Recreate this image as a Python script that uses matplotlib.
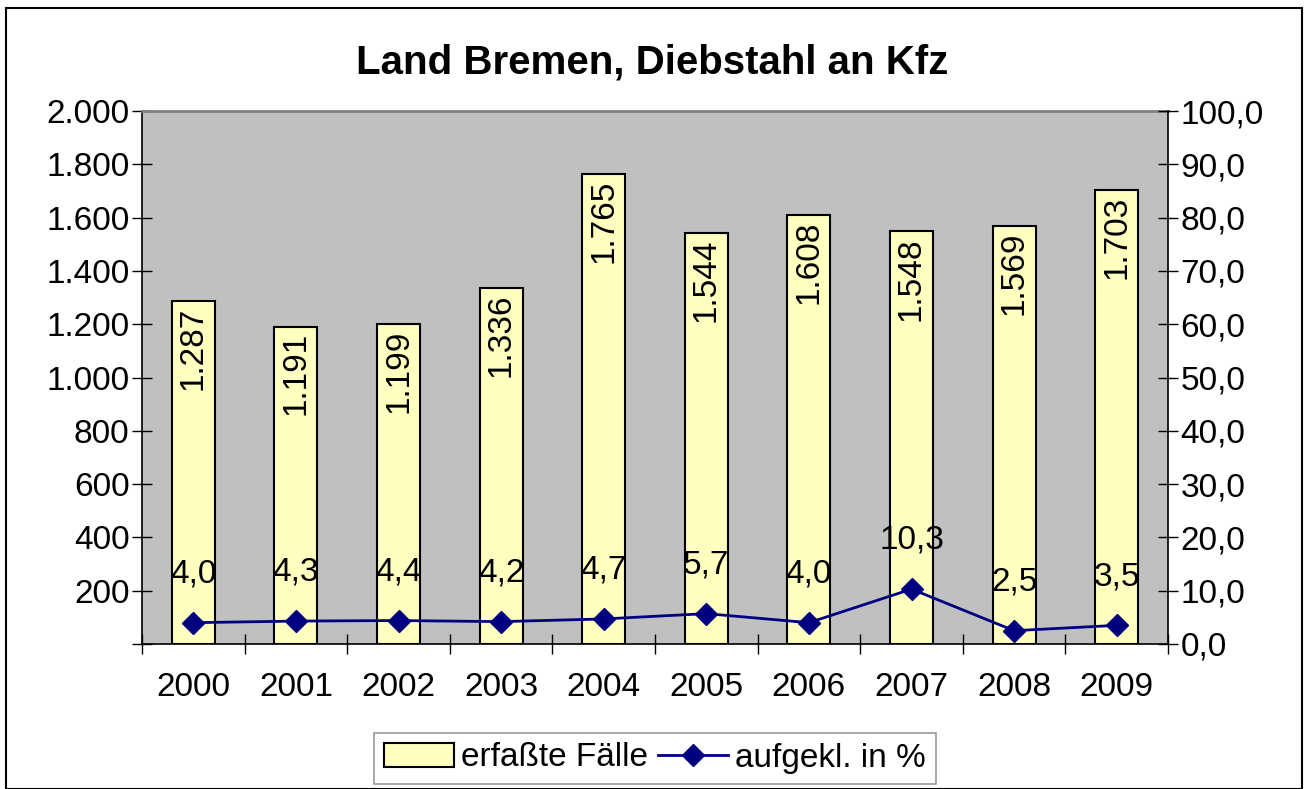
import matplotlib
matplotlib.use("Agg")
import matplotlib.pyplot as plt
from matplotlib.patches import Rectangle
from matplotlib.lines import Line2D
from matplotlib.ticker import FuncFormatter, FixedLocator

plt.rcParams['font.family'] = ['Liberation Sans', 'DejaVu Sans']

# data
years = ['2000', '2001', '2002', '2003', '2004', '2005', '2006', '2007', '2008', '2009']
cases = [1287, 1191, 1199, 1336, 1765, 1544, 1608, 1548, 1569, 1703]
solved_pct = [4.0, 4.3, 4.4, 4.2, 4.7, 5.7, 4.0, 10.3, 2.5, 3.5]

FS = 24
fig = plt.figure(figsize=(13.04, 7.89), dpi=100)

# outer chart border
fig.patches.append(Rectangle((6 / 1304, 0), 1296 / 1304, 781 / 789, transform=fig.transFigure,
                             fill=False, edgecolor='black', linewidth=1.5))

ax = fig.add_axes([142 / 1304, 1 - 644 / 789, 1026 / 1304, 533 / 789])
ax.set_facecolor('#C0C0C0')

x = list(range(len(years)))
ax.bar(x, cases, width=0.42, color='#FFFFC0', edgecolor='black', linewidth=1.5, zorder=2)
ax.set_xlim(-0.5, len(years) - 0.5)
ax.set_ylim(0, 2000)
ax.set_yticks(range(0, 2001, 200))
ax.yaxis.set_major_formatter(FuncFormatter(lambda v, p: '' if v == 0 else f'{int(v):,}'.replace(',', '.')))

ax.set_xticks(x)
ax.set_xticklabels(years, fontsize=FS)
ax.tick_params(axis='x', length=0, pad=20)
ax.xaxis.set_minor_locator(FixedLocator([i - 0.5 for i in range(len(years) + 1)]))
ax.tick_params(axis='x', which='minor', direction='inout', length=14, width=1)
ax.tick_params(axis='y', direction='inout', length=14, width=1, labelsize=FS, pad=2)

for s in ['left', 'bottom']:
    ax.spines[s].set_linewidth(1.2)
ax.spines['top'].set_color('#808080')
ax.spines['top'].set_linewidth(2)
ax.spines['right'].set_visible(False)

for xi, v in zip(x, cases):
    ax.annotate(f'{v:,}'.replace(',', '.'), (xi, v), xytext=(0, -4), textcoords='offset points',
                rotation=90, ha='center', va='top', fontsize=FS, zorder=3)

ax2 = ax.twinx()
ax2.plot(x, solved_pct, color='#000080', linewidth=2, marker='D', markersize=11, zorder=4)
ax2.set_ylim(0, 100)
ax2.set_yticks(range(0, 101, 10))
ax2.yaxis.set_major_formatter(FuncFormatter(lambda v, p: f'{v:.1f}'.replace('.', ',')))
ax2.tick_params(axis='y', direction='inout', length=14, width=1, labelsize=FS, pad=2)
for s in ['left', 'top', 'bottom']:
    ax2.spines[s].set_visible(False)
ax2.spines['right'].set_linewidth(1.2)

for xi, v in zip(x, solved_pct):
    ax2.annotate(f'{v:.1f}'.replace('.', ','), (xi, v), xytext=(0, 35), textcoords='offset points',
                 ha='center', va='center', fontsize=FS, zorder=5)

fig.text(0.5, 1 - 62 / 789, 'Land Bremen, Diebstahl an Kfz', ha='center', va='center',
         fontsize=29, fontweight='bold')

handles = [Rectangle((0, 0), 1, 1, facecolor='#FFFFC0', edgecolor='black', linewidth=1.5),
           Line2D([], [], color='#000080', linewidth=2, marker='D', markersize=11)]
leg = fig.legend(handles, ['erfaßte Fälle', 'aufgekl. in %'], loc='center',
                 bbox_to_anchor=(655 / 1304, 1 - 758 / 789), ncol=2, fontsize=FS,
                 frameon=True, fancybox=False, handlelength=2.1, handletextpad=0.2,
                 columnspacing=0.3, borderpad=0.3, borderaxespad=0)
leg.get_frame().set_edgecolor('#808080')
leg.get_frame().set_linewidth(1.2)

fig.savefig('out.png', dpi=100)
